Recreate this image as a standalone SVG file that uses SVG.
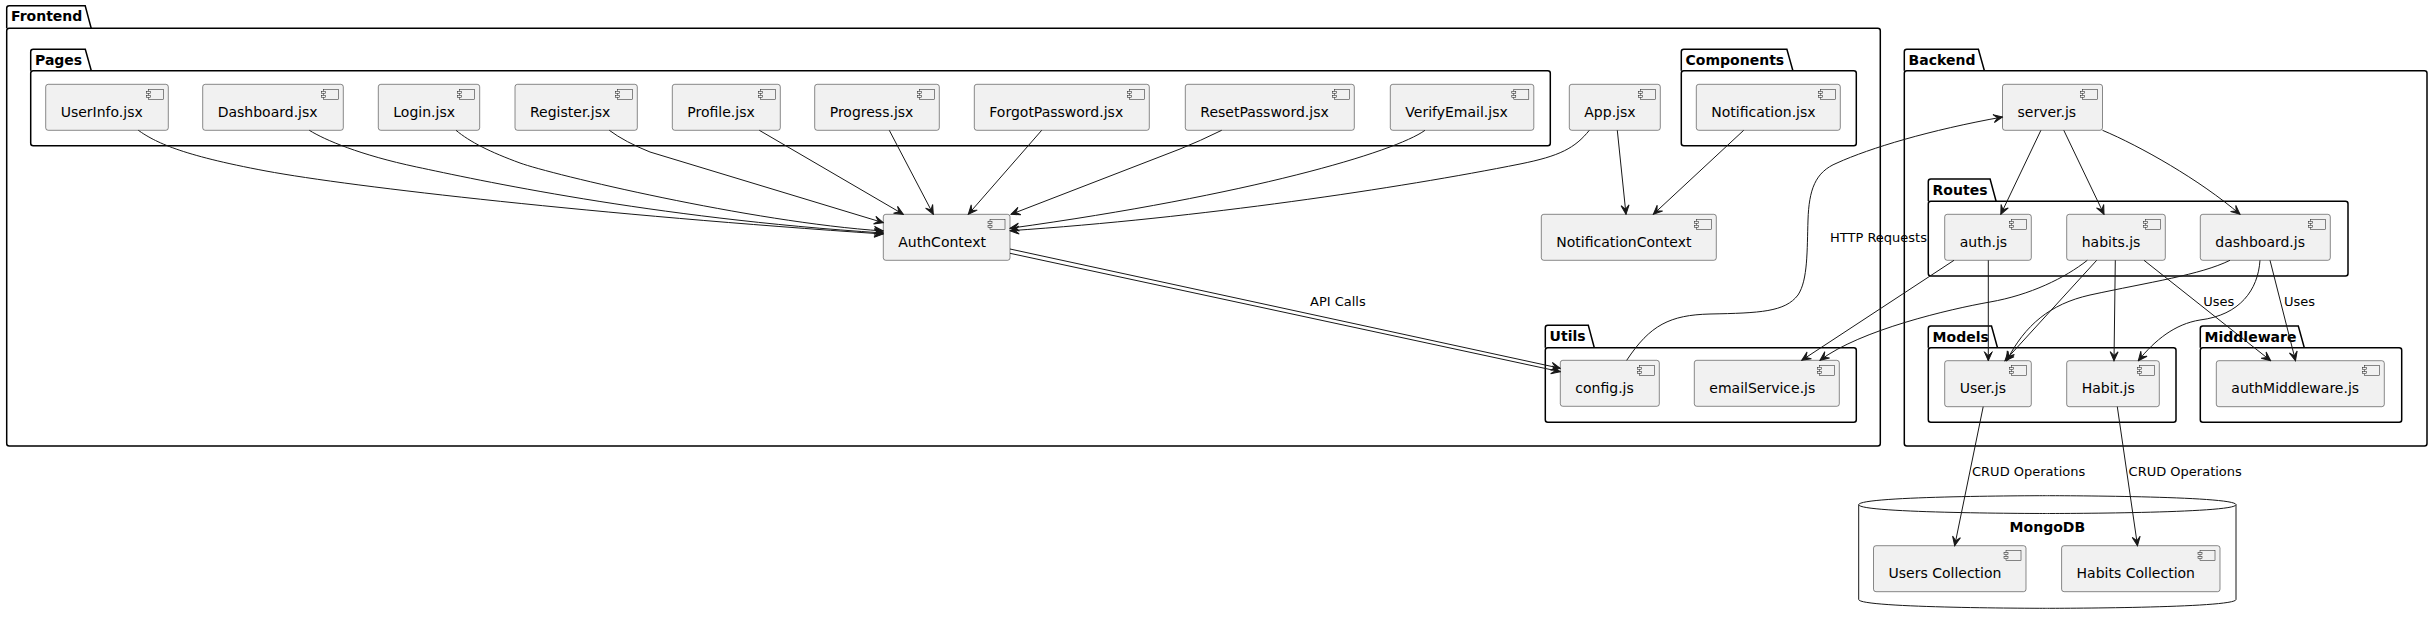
<svg xmlns="http://www.w3.org/2000/svg" xmlns:xlink="http://www.w3.org/1999/xlink" width="2430" height="624" viewBox="0 0 2430 624">
<style>
.pk{fill:none;stroke:#000000;stroke-width:1.5}
.pt{font-family:"DejaVu Sans",sans-serif;font-size:14px;font-weight:bold;fill:#000000}
.bx{fill:#F1F1F1;stroke:#181818;stroke-width:0.5}
.bt{font-family:"DejaVu Sans",sans-serif;font-size:14px;fill:#000000}
.ic{fill:#F1F1F1;stroke:#181818;stroke-width:0.5}
.ed{fill:none;stroke:#181818;stroke-width:1;marker-end:url(#ah)}
.el{font-family:"DejaVu Sans",sans-serif;font-size:13px;fill:#000000}
.db{fill:#FFFFFF;stroke:#181818;stroke-width:1}
</style>
<defs>
<marker id="ah" viewBox="-10 -5 11 10" refX="0" refY="0" markerWidth="11" markerHeight="10" orient="auto" markerUnits="userSpaceOnUse">
<path d="M0,0 L-9,-4 L-5,0 L-9,4 Z" fill="#181818" stroke="#181818" stroke-width="1"/>
</marker>
<g id="ci">
<rect class="ic" x="-20" y="5" width="15" height="10"/>
<rect class="ic" x="-22" y="7" width="4" height="2"/>
<rect class="ic" x="-22" y="11" width="4" height="2"/>
</g>
</defs>
<rect width="2430" height="624" fill="#FFFFFF"/>

<g id="packages">
<g id="pkg-frontend">
<rect class="pk" x="6.7" y="28.3" width="1873.6" height="417.7" rx="2.5"/>
<path class="pk" d="M6.7,28.3 L6.7,8.2 Q6.7,5.7 9.2,5.7 L85.2,5.7 L91.2,28.3"/>
<text class="pt" x="11" y="21.2">Frontend</text>
</g>
<g id="pkg-pages">
<rect class="pk" x="30.7" y="70.7" width="1519.6" height="75" rx="2.5"/>
<path class="pk" d="M30.7,70.7 L30.7,51.8 Q30.7,49.3 33.2,49.3 L85.3,49.3 L91.3,70.7"/>
<text class="pt" x="35" y="64.8">Pages</text>
</g>
<g id="pkg-components">
<rect class="pk" x="1681.3" y="70.7" width="175" height="75" rx="2.5"/>
<path class="pk" d="M1681.3,70.7 L1681.3,51.8 Q1681.3,49.3 1683.8,49.3 L1786.9,49.3 L1792.9,70.7"/>
<text class="pt" x="1685.6" y="64.8">Components</text>
</g>
<g id="pkg-utils">
<rect class="pk" x="1545.3" y="347.7" width="311" height="74.6" rx="2.5"/>
<path class="pk" d="M1545.3,347.7 L1545.3,327.8 Q1545.3,325.3 1547.8,325.3 L1588.3,325.3 L1594.3,347.7"/>
<text class="pt" x="1549.6" y="340.8">Utils</text>
</g>
<g id="pkg-backend">
<rect class="pk" x="1904.3" y="70.7" width="522.7" height="375.3" rx="2.5"/>
<path class="pk" d="M1904.3,70.7 L1904.3,51.8 Q1904.3,49.3 1906.8,49.3 L1978.4,49.3 L1984.4,70.7"/>
<text class="pt" x="1908.6" y="64.8">Backend</text>
</g>
<g id="pkg-routes">
<rect class="pk" x="1928.3" y="201.3" width="419.7" height="74.7" rx="2.5"/>
<path class="pk" d="M1928.3,201.3 L1928.3,181.5 Q1928.3,179 1930.8,179 L1990.1,179 L1996.1,201.3"/>
<text class="pt" x="1932.6" y="194.5">Routes</text>
</g>
<g id="pkg-models">
<rect class="pk" x="1928.3" y="347.7" width="247.7" height="74.6" rx="2.5"/>
<path class="pk" d="M1928.3,347.7 L1928.3,328.5 Q1928.3,326 1930.8,326 L1991.5,326 L1997.5,347.7"/>
<text class="pt" x="1932.6" y="341.5">Models</text>
</g>
<g id="pkg-middleware">
<rect class="pk" x="2200.3" y="347.7" width="201.4" height="74.6" rx="2.5"/>
<path class="pk" d="M2200.3,347.7 L2200.3,328.5 Q2200.3,326 2202.8,326 L2298.3,326 L2304.3,347.7"/>
<text class="pt" x="2204.6" y="341.5">Middleware</text>
</g>
<g id="db-mongodb">
<path class="db" d="M1858.7,504.7 C1858.7,495.7 2047.35,495.7 2047.35,495.7 C2047.35,495.7 2236,495.7 2236,504.7 L2236,599.5 C2236,608.3 2047.35,608.3 2047.35,608.3 C2047.35,608.3 1858.7,608.3 1858.7,599.5 Z"/>
<path class="db" fill="none" d="M1858.7,504.7 C1858.7,513.5 2047.35,513.5 2047.35,513.5 C2047.35,513.5 2236,513.5 2236,504.7"/>
<text class="pt" x="2047.35" y="531.5" text-anchor="middle">MongoDB</text>
</g>
</g>

<g id="nodes">
<g id="UserInfo"><rect class="bx" x="45.7" y="84.3" width="122.6" height="46" rx="2.5"/><use xlink:href="#ci" x="168.3" y="84.3"/><text class="bt" x="60.7" y="116.7">UserInfo.jsx</text></g>
<g id="Dashboard"><rect class="bx" x="202.7" y="84.3" width="140.6" height="46" rx="2.5"/><use xlink:href="#ci" x="343.3" y="84.3"/><text class="bt" x="217.7" y="116.7">Dashboard.jsx</text></g>
<g id="Login"><rect class="bx" x="378.3" y="84.3" width="101.4" height="46" rx="2.5"/><use xlink:href="#ci" x="479.7" y="84.3"/><text class="bt" x="393.3" y="116.7">Login.jsx</text></g>
<g id="Register"><rect class="bx" x="515" y="84.3" width="122.3" height="46" rx="2.5"/><use xlink:href="#ci" x="637.3" y="84.3"/><text class="bt" x="530" y="116.7">Register.jsx</text></g>
<g id="Profile"><rect class="bx" x="672.3" y="84.3" width="108" height="46" rx="2.5"/><use xlink:href="#ci" x="780.3" y="84.3"/><text class="bt" x="687.3" y="116.7">Profile.jsx</text></g>
<g id="Progress"><rect class="bx" x="814.7" y="84.3" width="124.6" height="46" rx="2.5"/><use xlink:href="#ci" x="939.3" y="84.3"/><text class="bt" x="829.7" y="116.7">Progress.jsx</text></g>
<g id="ForgotPassword"><rect class="bx" x="974.3" y="84.3" width="175" height="46" rx="2.5"/><use xlink:href="#ci" x="1149.3" y="84.3"/><text class="bt" x="989.3" y="116.7">ForgotPassword.jsx</text></g>
<g id="ResetPassword"><rect class="bx" x="1185.3" y="84.3" width="169" height="46" rx="2.5"/><use xlink:href="#ci" x="1354.3" y="84.3"/><text class="bt" x="1200.3" y="116.7">ResetPassword.jsx</text></g>
<g id="VerifyEmail"><rect class="bx" x="1390.3" y="84.3" width="143.5" height="46" rx="2.5"/><use xlink:href="#ci" x="1533.8" y="84.3"/><text class="bt" x="1405.3" y="116.7">VerifyEmail.jsx</text></g>
<g id="App"><rect class="bx" x="1569.3" y="84.3" width="91" height="46" rx="2.5"/><use xlink:href="#ci" x="1660.3" y="84.3"/><text class="bt" x="1584.3" y="116.7">App.jsx</text></g>
<g id="Notification"><rect class="bx" x="1696.3" y="84.3" width="144" height="46" rx="2.5"/><use xlink:href="#ci" x="1840.3" y="84.3"/><text class="bt" x="1711.3" y="116.7">Notification.jsx</text></g>
<g id="AuthContext"><rect class="bx" x="883.3" y="214.3" width="126.7" height="46" rx="2.5"/><use xlink:href="#ci" x="1010" y="214.3"/><text class="bt" x="898.3" y="246.7">AuthContext</text></g>
<g id="NotificationContext"><rect class="bx" x="1541.3" y="214.3" width="175" height="46" rx="2.5"/><use xlink:href="#ci" x="1716.3" y="214.3"/><text class="bt" x="1556.3" y="246.7">NotificationContext</text></g>
<g id="config"><rect class="bx" x="1560.3" y="360.3" width="99" height="46" rx="2.5"/><use xlink:href="#ci" x="1659.3" y="360.3"/><text class="bt" x="1575.3" y="392.7">config.js</text></g>
<g id="emailService"><rect class="bx" x="1694.3" y="360.3" width="145" height="46" rx="2.5"/><use xlink:href="#ci" x="1839.3" y="360.3"/><text class="bt" x="1709.3" y="392.7">emailService.js</text></g>
<g id="server"><rect class="bx" x="2002.5" y="84.3" width="100" height="46" rx="2.5"/><use xlink:href="#ci" x="2102.5" y="84.3"/><text class="bt" x="2017.5" y="116.7">server.js</text></g>
<g id="auth"><rect class="bx" x="1944.7" y="214.3" width="86.6" height="46" rx="2.5"/><use xlink:href="#ci" x="2031.3" y="214.3"/><text class="bt" x="1959.7" y="246.7">auth.js</text></g>
<g id="habits"><rect class="bx" x="2066.7" y="214.3" width="98.6" height="46" rx="2.5"/><use xlink:href="#ci" x="2165.3" y="214.3"/><text class="bt" x="2081.7" y="246.7">habits.js</text></g>
<g id="dashboardjs"><rect class="bx" x="2200.3" y="214.3" width="130" height="46" rx="2.5"/><use xlink:href="#ci" x="2330.3" y="214.3"/><text class="bt" x="2215.3" y="246.7">dashboard.js</text></g>
<g id="User"><rect class="bx" x="1944.7" y="360.7" width="86.6" height="46" rx="2.5"/><use xlink:href="#ci" x="2031.3" y="360.7"/><text class="bt" x="1959.7" y="393.1">User.js</text></g>
<g id="Habit"><rect class="bx" x="2066.7" y="360.7" width="92.6" height="46" rx="2.5"/><use xlink:href="#ci" x="2159.3" y="360.7"/><text class="bt" x="2081.7" y="393.1">Habit.js</text></g>
<g id="authMiddleware"><rect class="bx" x="2216.3" y="360.7" width="168" height="46" rx="2.5"/><use xlink:href="#ci" x="2384.3" y="360.7"/><text class="bt" x="2231.3" y="393.1">authMiddleware.js</text></g>
<g id="UsersCollection"><rect class="bx" x="1873.5" y="545.7" width="152.5" height="46" rx="2.5"/><use xlink:href="#ci" x="2026" y="545.7"/><text class="bt" x="1888.5" y="578.1">Users Collection</text></g>
<g id="HabitsCollection"><rect class="bx" x="2061.6" y="545.7" width="158.4" height="46" rx="2.5"/><use xlink:href="#ci" x="2220" y="545.7"/><text class="bt" x="2076.6" y="578.1">Habits Collection</text></g>
</g>

<g id="connectors">
<path class="ed" d="M138.3,130.3 C155,142 180,155 266,171 S600,215 883.3,234"/>
<path class="ed" d="M309.3,130.3 C325,140 360,155 416.7,167 S650,218 883.3,233"/>
<path class="ed" d="M456,130.3 C470,142 490,152 520,163 S750,222 883.3,231"/>
<path class="ed" d="M609.3,130.3 Q625,142 650,152 L883.3,222.7"/>
<path class="ed" d="M759.3,130.3 L903.3,214.3"/>
<path class="ed" d="M889.3,130.3 L933.3,214.3"/>
<path class="ed" d="M1041.7,130.3 L968.3,214.3"/>
<path class="ed" d="M1221.7,130.3 Q1200,141 1180,149 L1011,214.3"/>
<path class="ed" d="M1425,130.3 C1395,152 1250,195 1010,228.3"/>
<path class="ed" d="M1589.3,130.3 C1575,148 1560,156 1520,164 C1400,188 1200,218 1010,230.7"/>
<path class="ed" d="M1617.3,130.3 L1626,214.3"/>
<path class="ed" d="M1743.7,130.3 L1653.3,214.3"/>
<path class="ed" d="M1010,249 L1560.3,368.3"/>
<path class="ed" d="M1010,253.3 L1560.3,371.7"/>
<path class="ed" d="M1626.7,360.3 C1650,325 1670,315 1710,314 C1760,313 1785,312 1798,295 C1808,280 1807,250 1808,220 C1809,190 1815,172 1837,163 C1870,148 1930,130 2002.5,117"/>
<path class="ed" d="M2040.9,130.3 L2000.8,214.3"/>
<path class="ed" d="M2063.8,130.3 L2104,214.3"/>
<path class="ed" d="M2102.5,130.3 C2140,146 2200,180 2240,214.3"/>
<path class="ed" d="M1988.3,260.3 L1988.3,360.7"/>
<path class="ed" d="M1954,260.3 L1801.7,360.3"/>
<path class="ed" d="M2087.3,260.3 C2065,278 2030,295 1990,302 C1950,309 1860,330 1820,360.3"/>
<path class="ed" d="M2096.7,260.3 L2005,360.7"/>
<path class="ed" d="M2115.3,260.3 L2114,360.7"/>
<path class="ed" d="M2144,260.3 L2270.7,360.7"/>
<path class="ed" d="M2230,260.3 C2200,275 2150,282 2090,295 C2050,304 2025,325 2006.7,360.7"/>
<path class="ed" d="M2260,260.3 C2258,290 2240,315 2200,320 C2175,324 2155,340 2138.3,360.7"/>
<path class="ed" d="M2270,260.3 L2295.5,360.7"/>
<path class="ed" d="M1983.2,406.7 L1954.7,545.7"/>
<path class="ed" d="M2117.3,406.7 L2137.5,545.7"/>
<text class="el" x="1310" y="306">API Calls</text>
<text class="el" x="1830" y="241.7">HTTP Requests</text>
<text class="el" x="2203.3" y="305.7">Uses</text>
<text class="el" x="2284" y="305.7">Uses</text>
<text class="el" x="1972" y="476">CRUD Operations</text>
<text class="el" x="2128.6" y="476">CRUD Operations</text>
</g>
</svg>
